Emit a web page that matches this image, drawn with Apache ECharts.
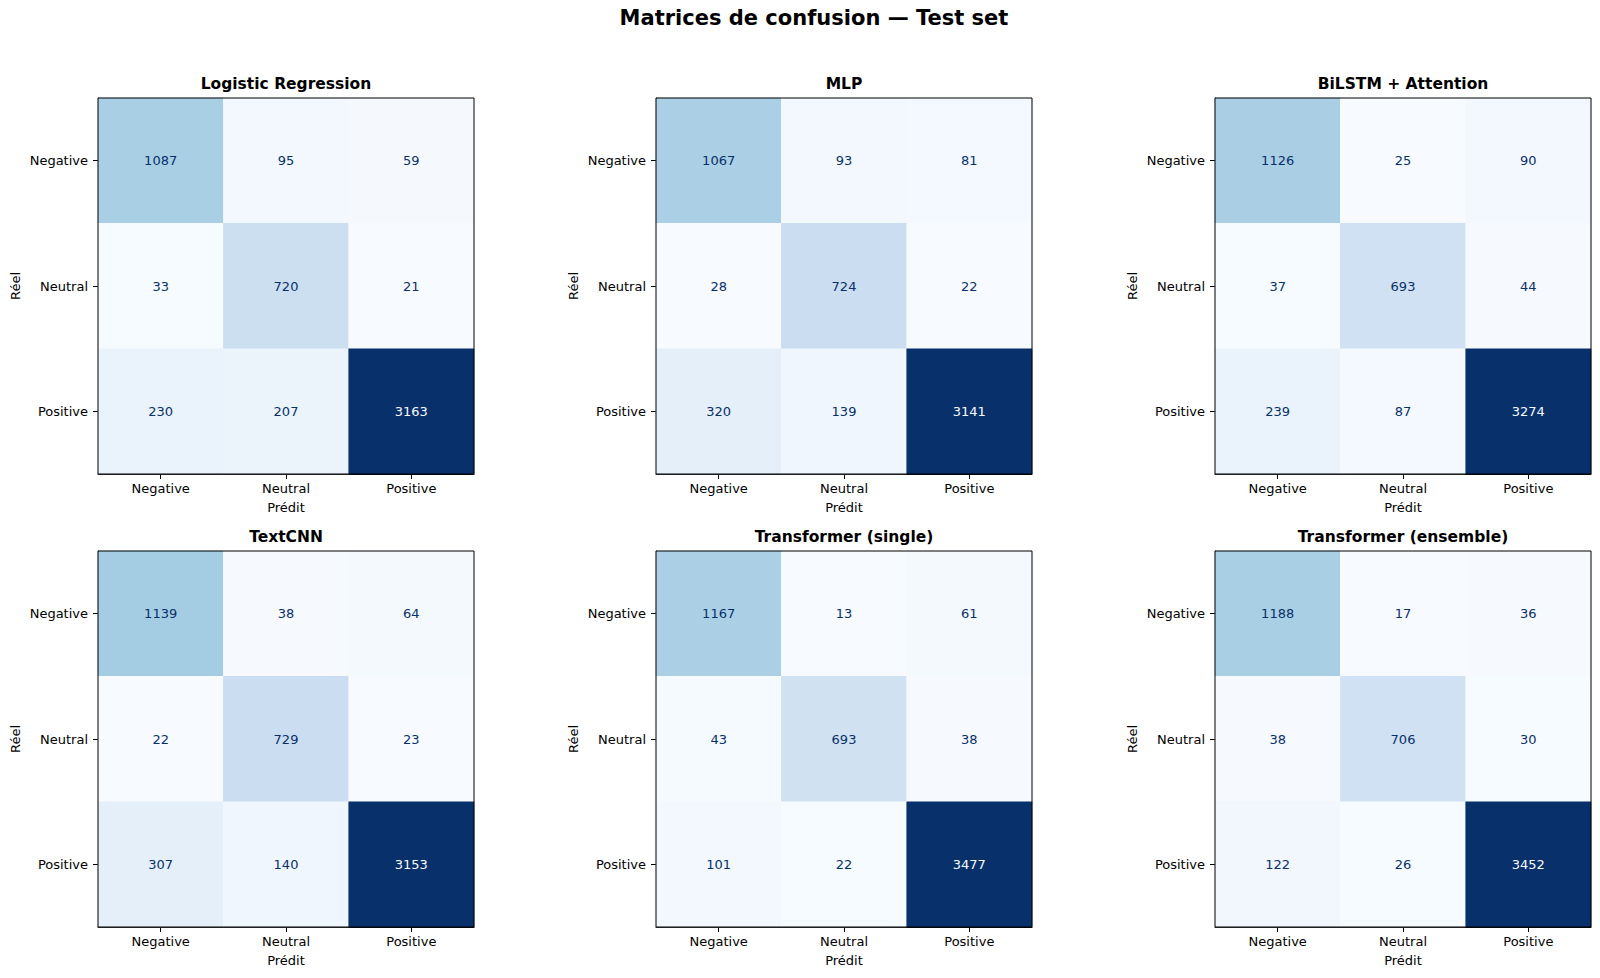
<!DOCTYPE html>
<html>
<head>
<meta charset="utf-8">
<title>Matrices de confusion — Test set</title>
<script src="https://cdn.jsdelivr.net/npm/echarts@6/dist/echarts.min.js"></script>
<style>
  html, body { margin: 0; padding: 0; background: #fff; }
  #chart { width: 1600px; height: 978px; }
</style>
</head>
<body>
<div id="chart"></div>
<script>
// classes
var classes = ['Negative', 'Neutral', 'Positive'];

// modèles
var models = ['Logistic Regression', 'MLP', 'BiLSTM + Attention',
              'TextCNN', 'Transformer (single)', 'Transformer (ensemble)'];

// matrices (lignes = réel, colonnes = prédit)
var cmLogReg = [[1087, 95, 59], [33, 720, 21], [230, 207, 3163]];
var cmMlp = [[1067, 93, 81], [28, 724, 22], [320, 139, 3141]];
var cmBilstm = [[1126, 25, 90], [37, 693, 44], [239, 87, 3274]];
var cmTextcnn = [[1139, 38, 64], [22, 729, 23], [307, 140, 3153]];
var cmTransSingle = [[1167, 13, 61], [43, 693, 38], [101, 22, 3477]];
var cmTransEns = [[1188, 17, 36], [38, 706, 30], [122, 26, 3452]];

var matrices = [cmLogReg, cmMlp, cmBilstm, cmTextcnn, cmTransSingle, cmTransEns];

// palette "Blues" de matplotlib
var blues = ['#f7fbff', '#deebf7', '#c6dbef', '#9ecae1', '#6baed6',
             '#4292c6', '#2171b5', '#08519c', '#08306b'];

var FONT = 'DejaVu Sans';
var colLeft = [98, 656, 1215];
var rowTop = [98, 551];
var cellBox = 376;

var grids = [], xAxes = [], yAxes = [], series = [], visualMaps = [], graphics = [];

matrices.forEach(function (cm, k) {
    var col = k % 3, row = Math.floor(k / 3);
    var flat = [].concat.apply([], cm);
    var vmin = Math.min.apply(null, flat), vmax = Math.max.apply(null, flat);
    var thresh = (vmin + vmax) / 2;

    grids.push({
        left: colLeft[col], top: rowTop[row], width: cellBox, height: cellBox,
        show: true, z: 10, backgroundColor: 'transparent',
        borderColor: '#000', borderWidth: 1
    });

    xAxes.push({
        gridIndex: k, type: 'category', data: classes, position: 'bottom',
        name: 'Prédit', nameLocation: 'middle', nameGap: 27,
        nameTextStyle: {fontFamily: FONT, fontSize: 13, color: '#000'},
        axisLine: {show: true, lineStyle: {color: '#000', width: 1}},
        axisTick: {show: true, alignWithLabel: true, length: 5, lineStyle: {color: '#000'}},
        axisLabel: {fontFamily: FONT, fontSize: 13, color: '#000', margin: 8},
        splitLine: {show: false}
    });

    yAxes.push({
        gridIndex: k, type: 'category', data: classes, inverse: true,
        name: 'Réel', nameLocation: 'middle', nameGap: 76,
        nameTextStyle: {fontFamily: FONT, fontSize: 13, color: '#000'},
        axisLine: {show: true, lineStyle: {color: '#000', width: 1}},
        axisTick: {show: true, alignWithLabel: true, length: 5, lineStyle: {color: '#000'}},
        axisLabel: {fontFamily: FONT, fontSize: 13, color: '#000', margin: 10},
        splitLine: {show: false}
    });

    var data = [];
    cm.forEach(function (rowVals, i) {
        rowVals.forEach(function (v, j) {
            data.push({
                value: [j, i, v],
                label: {color: v < thresh ? '#08306b' : '#f7fbff'}
            });
        });
    });

    series.push({
        type: 'heatmap', xAxisIndex: k, yAxisIndex: k, data: data,
        label: {
            show: true, fontFamily: FONT, fontSize: 13,
            formatter: function (p) { return p.value[2]; }
        },
        emphasis: {disabled: true},
        itemStyle: {borderWidth: 0}
    });

    visualMaps.push({
        show: false, seriesIndex: k, min: vmin, max: vmax, dimension: 2,
        inRange: {color: blues}
    });

    graphics.push({
        type: 'text', x: colLeft[col] + cellBox / 2, y: rowTop[row] - 14,
        style: {
            text: models[k], textAlign: 'center', textVerticalAlign: 'middle',
            font: 'bold 15.5px "' + FONT + '"', fill: '#000'
        }
    });
});

graphics.push({
    type: 'text', x: 814, y: 18,
    style: {
        text: 'Matrices de confusion — Test set', textAlign: 'center', textVerticalAlign: 'middle',
        font: 'bold 21px "' + FONT + '"', fill: '#000'
    }
});

var chart = echarts.init(document.getElementById('chart'), null, {renderer: 'svg'});
chart.setOption({
    backgroundColor: '#fff',
    animation: false,
    textStyle: {fontFamily: FONT},
    grid: grids,
    xAxis: xAxes,
    yAxis: yAxes,
    visualMap: visualMaps,
    series: series,
    graphic: graphics
});
</script>
</body>
</html>
